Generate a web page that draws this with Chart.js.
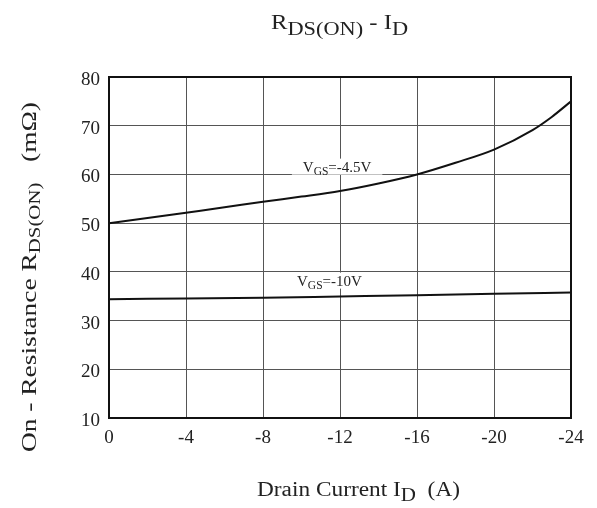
<!DOCTYPE html>
<html>
<head>
<meta charset="utf-8">
<script src="https://cdn.jsdelivr.net/npm/chart.js@4/dist/chart.umd.min.js"></script>
<style>
  html, body { margin: 0; padding: 0; background: #fff; }
  #wrap { width: 597px; height: 508px; }
</style>
</head>
<body>
<div id="wrap"><canvas id="c" width="597" height="508"></canvas></div>
<script>
// R_DS(ON) vs drain current
const currents45 = [0, -2, -4, -6, -8, -10, -12, -14, -16, -18, -20, -22, -23, -24];
const rds45 = [50, 51.05, 52.15, 53.25, 54.4, 55.45, 56.6, 58.15, 60, 62.4, 65.1, 69.1, 71.8, 75];
const currents10 = [0, -4, -8, -12, -16, -20, -24];
const rds10 = [34.4, 34.55, 34.7, 34.95, 35.2, 35.5, 35.75];
const xTicks = [0, -4, -8, -12, -16, -20, -24];
const yTicks = [10, 20, 30, 40, 50, 60, 70, 80];

const SERIF = '"Liberation Serif", "DejaVu Serif", serif';

// text built from parts, some subscripted; squeezed/stretched to a given width
function partsWidth(ctx, parts, size, subSize) {
  let w = 0;
  parts.forEach((p) => {
    ctx.font = (p.sub ? subSize : size) + "px " + SERIF;
    w += ctx.measureText(p.t).width;
  });
  return w;
}
function drawRich(ctx, parts, o) {
  const w = partsWidth(ctx, parts, o.size, o.subSize);
  const sx = o.width ? o.width / w : 1;
  ctx.save();
  ctx.translate(o.x, o.y);
  if (o.rotate) ctx.rotate(-Math.PI / 2);
  ctx.scale(sx, 1);
  let cx = o.align === "center" ? -w / 2 : 0;
  ctx.textAlign = "left";
  ctx.textBaseline = "alphabetic";
  parts.forEach((p) => {
    ctx.font = (p.sub ? o.subSize : o.size) + "px " + SERIF;
    ctx.fillText(p.t, cx, p.sub ? o.subDy : 0);
    cx += ctx.measureText(p.t).width;
  });
  ctx.restore();
}

const curveLabels = [
  { x0: -9.5, x1: -14.2, y: 61.6, parts: [{ t: "V" }, { t: "GS", sub: true }, { t: "=-4.5V" }] },
  { x0: -9.2, x1: -13.7, y: 38.2, parts: [{ t: "V" }, { t: "GS", sub: true }, { t: "=-10V" }] },
];

const decor = {
  id: "decor",
  beforeDatasetsDraw(chart) {
    const ctx = chart.ctx;
    const xs = chart.scales.x, ys = chart.scales.y;
    ctx.save();
    curveLabels.forEach((l) => {
      const a = xs.getPixelForValue(l.x0), b = xs.getPixelForValue(l.x1);
      const cy = ys.getPixelForValue(l.y);
      ctx.fillStyle = "#fff";
      ctx.fillRect(a, cy - 8, b - a, 16);
      ctx.fillStyle = "#222";
      drawRich(ctx, l.parts, { x: (a + b) / 2, y: cy + 5, size: 15, subSize: 11.5, subDy: 3, align: "center" });
    });
    ctx.restore();
  },
  afterDraw(chart) {
    const ctx = chart.ctx;
    const a = chart.chartArea;
    ctx.save();
    ctx.strokeStyle = "#111";
    ctx.lineWidth = 2;
    ctx.strokeRect(a.left, a.top, a.right - a.left, a.bottom - a.top);
    ctx.fillStyle = "#222";
    // chart title
    drawRich(ctx, [{ t: "R" }, { t: "DS(ON)", sub: true }, { t: " - I" }, { t: "D", sub: true }],
      { x: 271, y: 28.5, size: 21, subSize: 19, subDy: 6.5, width: 137 });
    // x axis title
    drawRich(ctx, [{ t: "Drain Current I" }, { t: "D", sub: true }, { t: "  (A)" }],
      { x: 257, y: 496, size: 20, subSize: 18, subDy: 5, width: 203 });
    // y axis title
    drawRich(ctx, [{ t: "On - Resistance R" }, { t: "DS(ON)", sub: true }, { t: "   (m\u03A9)" }],
      { x: 36, y: 452, size: 21, subSize: 16, subDy: 4, width: 350, rotate: true });
    ctx.restore();
  },
};

const toPts = (xs, ys) => xs.map((x, i) => ({ x, y: ys[i] }));

new Chart(document.getElementById("c"), {
  type: "line",
  data: {
    datasets: [
      { label: "VGS=-4.5V", data: toPts(currents45, rds45) },
      { label: "VGS=-10V", data: toPts(currents10, rds10) },
    ],
  },
  options: {
    responsive: false,
    animation: false,
    events: [],
    layout: { padding: { top: 77, right: 26, left: 0, bottom: 0 } },
    elements: {
      line: { borderColor: "#111", borderWidth: 2, cubicInterpolationMode: "monotone", fill: false },
      point: { radius: 0 },
    },
    plugins: { legend: { display: false }, title: { display: false }, tooltip: { enabled: false } },
    scales: {
      x: {
        type: "linear",
        reverse: true,
        min: -24,
        max: 0,
        afterBuildTicks: (s) => { s.ticks = xTicks.map((v) => ({ value: v })); },
        afterFit: (s) => { s.height = 90; },
        grid: { color: "#555", lineWidth: 1, drawTicks: false },
        border: { display: false },
        ticks: { padding: 9, color: "#222", font: { family: SERIF, size: 19 }, maxRotation: 0 },
      },
      y: {
        min: 10,
        max: 80,
        afterBuildTicks: (s) => { s.ticks = yTicks.map((v) => ({ value: v })); },
        afterFit: (s) => { s.width = 109; },
        grid: { color: "#555", lineWidth: 1, drawTicks: false },
        border: { display: false },
        ticks: { padding: 9, labelOffset: 3, color: "#222", font: { family: SERIF, size: 19 } },
      },
    },
  },
  plugins: [decor],
});
</script>
</body>
</html>
